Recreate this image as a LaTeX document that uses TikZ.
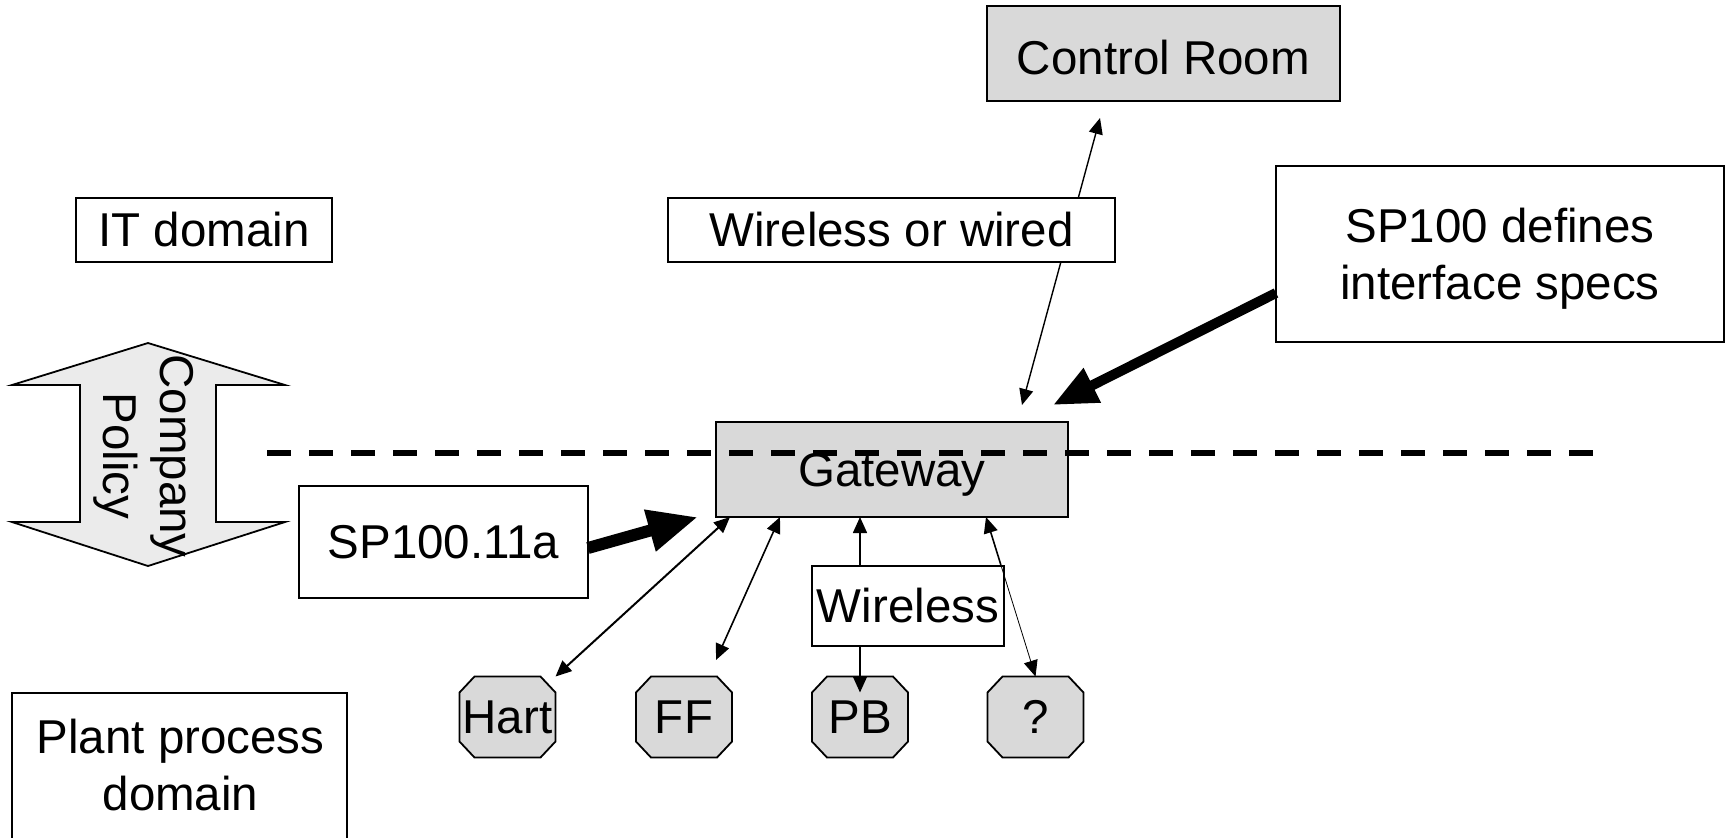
\documentclass[tikz,border=0pt]{standalone}
\usepackage{fontspec}
\setmainfont{Liberation Sans}
\usetikzlibrary{arrows.meta,calc,backgrounds}
\newcommand\octpath[1]{\draw[octo] (#1.center) ++(-33,-40.5) -- ++(66,0) -- ++(15,16) -- ++(0,49) -- ++(-15,16) -- ++(-66,0) -- ++(-15,-16) -- ++(0,-49) -- cycle;}
\begin{document}
\begin{tikzpicture}[x=0.5pt,y=-0.5pt,
  txt/.style={font=\fontsize{23.75pt}{28.5pt}\selectfont, inner sep=0pt, outer sep=0pt},
  one/.style={txt, text height=21.5pt, text depth=5pt},
  box/.style={draw=black, line width=1pt, fill=white, inner sep=0pt, outer sep=0pt},
  graybox/.style={box, fill=black!15},
  dev/.style={one, minimum width=48pt, minimum height=40.5pt},
  octo/.style={draw=black, line width=0.9pt, fill=black!15},
  tipp/.tip={Triangle[length=8pt,width=7pt]},
  link/.style={line width=0.8pt, tipp-tipp},
  onearrow/.style={line width=0.8pt, -tipp},
  fat/.style={line width=6pt, -{Triangle[length=25pt,width=20pt]}},
  fatb/.style={line width=5pt, -{Triangle[length=22pt,width=18pt]}},
  sepline/.style={line width=3pt, dash pattern=on 12pt off 9pt}
]
\useasboundingbox (0,0) rectangle (1726,837);
\clip (0,0) rectangle (1726,837);

% company policy double arrow
\draw[line width=0.9pt, fill=black!8] (148,343) -- (285,385) -- (216,385) -- (216,522) -- (285,522) -- (148,566) -- (12,522) -- (80,522) -- (80,385) -- (12,385) -- cycle;
\node[txt, align=center, rotate=-90] (cp) at (143.8,456) {Company\\Policy};

% boxes
\node[graybox, one, text height=26pt, minimum width=176.5pt, minimum height=47.75pt] (cr) at (1163.5,53.25) {Control Room};
\node[box, one, minimum width=128pt, minimum height=32pt] (it) at (204,230) {IT domain};
\node[box, minimum width=224pt, minimum height=88pt] (sp) at (1500,254) {};
\node[txt, align=center] (spt) at ([yshift=-2.35pt]sp.center) {SP100 defines\\interface specs};
\node[graybox, one, minimum width=176pt, minimum height=47.5pt] (gw) at (892,469.5) {Gateway};
\node[box, one, minimum width=144.5pt, minimum height=56pt] (sp11) at (443.5,542) {SP100.11a};
\node[box, minimum width=167.5pt, minimum height=103.5pt] (plant) at (179.5,796.5) {};
\node[txt, align=center] (plantt) at (180.5,765) {Plant process\\domain};

% devices
\node[dev] (hart) at (507.5,717) {Hart};
\node[dev] (ff) at (684,717) {FF};
\node[dev] (pb) at (860,717) {PB};
\node[dev] (q) at (1035.5,717) {?};
\begin{scope}[on background layer]
\octpath{hart}
\octpath{ff}
\octpath{pb}
\octpath{q}
\end{scope}

% control room link
\coordinate (crtip) at (1100,118);
\coordinate (gwtip) at (1022,405);
\draw[link, line width=0.7pt] (gwtip) -- (crtip);
\node[box, one, minimum width=223.5pt, minimum height=32pt] (ww) at (891.5,230) {Wireless or wired};

% thick arrows
\coordinate (fat1) at (698,517);
\draw[fat] ([yshift=-3pt]sp11.east) -- (fat1);
\coordinate (fat2) at (1053,405);
\draw[fatb] ([yshift=-19.5pt]sp.west) -- (fat2);

% device links
\draw[link, line width=1pt] ([xshift=7pt]gw.south west) -- (hart.north east);
\coordinate (fftip) at ([xshift=16pt,yshift=8.25pt]ff.north);
\draw[link] ([xshift=32pt]gw.south west) -- (fftip);
\node[box, one, minimum width=96pt, minimum height=40pt] (wl) at (908,606) {Wireless};
\draw[onearrow] (pb |- wl.north) -- (pb |- gw.south);
\draw[onearrow] (pb |- wl.south) -- ([yshift=-8pt]pb.north);
\coordinate (gwq) at ([xshift=-41pt]gw.south east);
\coordinate (qmid) at ($(gwq)!0.3!(q.north)$);
\draw[onearrow] (qmid) -- (gwq);
\draw[line width=0.4pt, -tipp] (qmid) -- (q.north);

% separator
\coordinate (dl1) at (267,453);
\coordinate (dl2) at (1594,453);
\draw[sepline] (dl1) -- (dl2);
\end{tikzpicture}
\end{document}
